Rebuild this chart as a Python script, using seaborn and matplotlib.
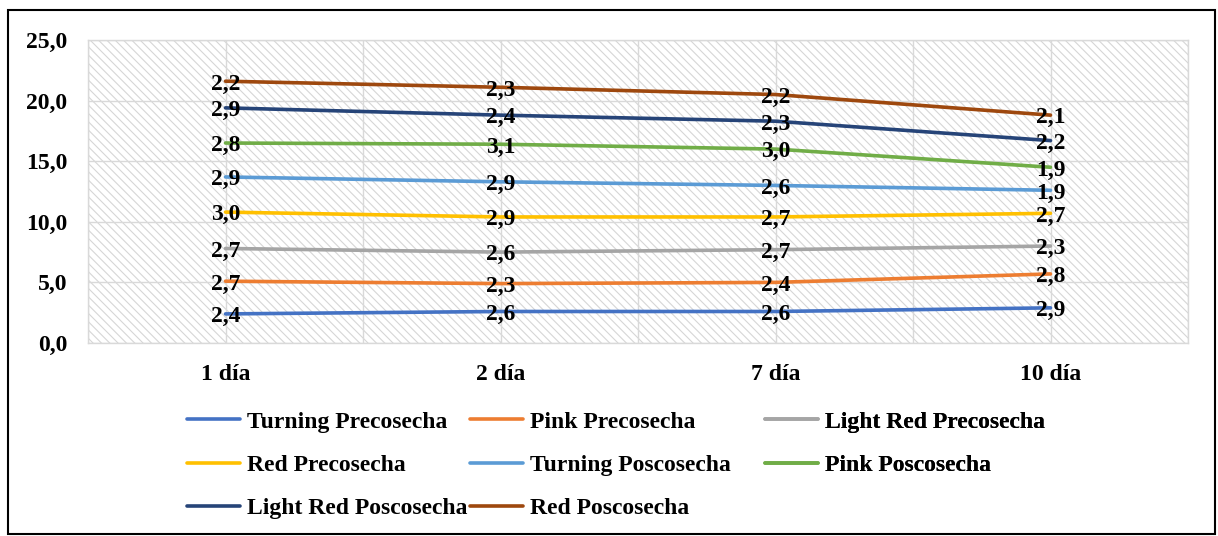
import matplotlib
matplotlib.use('Agg')
import matplotlib.pyplot as plt
import numpy as np
import pandas as pd
import seaborn as sns
from matplotlib.patches import Rectangle

# values (labels show each series' own value, lines are stacked)
days = ['1 día', '2 día', '7 día', '10 día']
series = ['Turning Precosecha', 'Pink Precosecha', 'Light Red Precosecha', 'Red Precosecha',
          'Turning Poscosecha', 'Pink Poscosecha', 'Light Red Poscosecha', 'Red Poscosecha']
turning_pre = [2.4, 2.6, 2.6, 2.9]
pink_pre = [2.7, 2.3, 2.4, 2.8]
light_red_pre = [2.7, 2.6, 2.7, 2.3]
red_pre = [3.0, 2.9, 2.7, 2.7]
turning_pos = [2.9, 2.9, 2.6, 1.9]
pink_pos = [2.8, 3.1, 3.0, 1.9]
light_red_pos = [2.9, 2.4, 2.3, 2.2]
red_pos = [2.2, 2.3, 2.2, 2.1]
colors = ['#4472C4', '#ED7D31', '#A5A5A5', '#FFC000', '#5B9BD5', '#70AD47', '#264478', '#9E480E']

vals = np.array([turning_pre, pink_pre, light_red_pre, red_pre,
                 turning_pos, pink_pos, light_red_pos, red_pos])
stacked = np.cumsum(vals, axis=0)

rows = []
for i, s in enumerate(series):
    for j, d in enumerate(days):
        rows.append({'serie': s, 'x': j, 'dia': d, 'val': vals[i, j], 'cum': stacked[i, j]})
df = pd.DataFrame(rows)

sns.set_style('white')
plt.rcParams['font.family'] = ['Liberation Serif', 'DejaVu Serif']
plt.rcParams['font.weight'] = 'bold'
plt.rcParams['text.color'] = 'black'
plt.rcParams['xtick.color'] = 'black'
plt.rcParams['ytick.color'] = 'black'
plt.rcParams['hatch.color'] = '#d6d6d6'
plt.rcParams['hatch.linewidth'] = 0.8

FS = 17

fig = plt.figure(figsize=(12.18, 5.36), dpi=100)
ax = fig.add_axes([88/1218, 1-343/536, 1100/1218, 303/536])

ax.patch.set_facecolor('white')
ax.patch.set_hatch('\\\\\\\\')
ax.patch.set_edgecolor('#d6d6d6')

sns.lineplot(data=df, x='x', y='cum', hue='serie', hue_order=series, palette=colors,
             linewidth=2.6, ax=ax, legend=False, zorder=3)

for i, s in enumerate(series):
    for j in range(len(days)):
        ax.annotate(f'{vals[i, j]:.1f}'.replace('.', ','), (j, stacked[i, j]),
                    xytext=(0, -2), textcoords='offset points', ha='center', va='center',
                    fontsize=FS, fontweight='bold', color='black', zorder=4)

ax.set_xlim(-0.5, 3.5)
ax.set_ylim(0, 25)
ax.set_yticks(np.arange(0, 26, 5))
ax.set_yticklabels([f'{v:.1f}'.replace('.', ',') for v in np.arange(0, 26, 5)])
ax.set_xticks(range(len(days)))
ax.set_xticklabels(days)
ax.set_xticks(np.arange(-0.5, 3.6, 1.0), minor=True)
ax.grid(True, which='both', axis='x', color='#d9d9d9', linewidth=1)
ax.grid(True, which='major', axis='y', color='#d9d9d9', linewidth=1)
ax.tick_params(axis='both', which='both', length=0, labelsize=FS, labelcolor='black')
ax.tick_params(axis='y', pad=15)
ax.tick_params(axis='x', pad=15)
ax.set_xlabel('')
ax.set_ylabel('')
for sp in ax.spines.values():
    sp.set_color('#d9d9d9')
    sp.set_linewidth(1)

# legend laid out row by row like the original, one legend per column
handles = [plt.Line2D([], [], color=c, linewidth=2.6) for c in colors]
columns = [[0, 3, 6], [1, 4, 7], [2, 5]]
col_x = [187, 470, 765]
for cx, idx in zip(col_x, columns):
    leg = ax.legend([handles[k] for k in idx], [series[k] for k in idx],
                    loc='upper left', bbox_to_anchor=(cx/1218, 1-411/536), bbox_transform=fig.transFigure,
                    frameon=False, fontsize=FS, handlelength=2.25, handletextpad=0.3,
                    labelspacing=0.92, borderaxespad=0, borderpad=0, labelcolor='black')
    ax.add_artist(leg)

fig.patches.append(Rectangle((8/1218, 2/536), 1207/1218, 524/536, transform=fig.transFigure,
                             fill=False, edgecolor='black', linewidth=1.5))

fig.savefig('out.png', dpi=100)
